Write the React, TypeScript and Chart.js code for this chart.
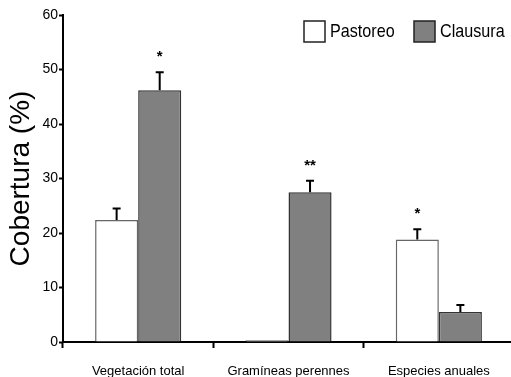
import React, { useEffect, useRef } from "react";
import { Chart, registerables } from "chart.js";

Chart.register(...registerables);

const categories = ["Vegetación total", "Gramíneas perennes", "Especies anuales"];
const pastoreo = [22.4, 0.3, 18.8];
const pastoreoErr = [2.1, 0, 1.9];
const clausura = [46.2, 27.5, 5.5];
const clausuraErr = [3.3, 2.1, 1.3];
const pastoreoSig = ["", "", "*"];
const clausuraSig = ["*", "**", ""];
const yTicks = [0, 10, 20, 30, 40, 50, 60];

const SANS = "'Liberation Sans', Arial, sans-serif";
const errs = [pastoreoErr, clausuraErr];
const sigs = [pastoreoSig, clausuraSig];

const extrasPlugin = {
  id: "extras",
  afterDatasetsDraw(chart: any) {
    const ctx = chart.ctx;
    const y = chart.scales.y;
    chart.data.datasets.forEach((ds: any, di: number) => {
      const meta = chart.getDatasetMeta(di);
      meta.data.forEach((bar: any, i: number) => {
        const v = ds.data[i];
        const e = errs[di][i];
        const top = y.getPixelForValue(v + e);
        ctx.save();
        if (e > 0) {
          ctx.strokeStyle = "#000";
          ctx.lineWidth = 2;
          ctx.beginPath();
          ctx.moveTo(bar.x, y.getPixelForValue(v));
          ctx.lineTo(bar.x, top);
          ctx.moveTo(bar.x - 4, top);
          ctx.lineTo(bar.x + 4, top);
          ctx.stroke();
        }
        const s = sigs[di][i];
        if (s) {
          ctx.fillStyle = "#000";
          ctx.font = "bold 15px " + SANS;
          ctx.textAlign = "center";
          ctx.textBaseline = "middle";
          ctx.fillText(s, bar.x, top - 15);
        }
        ctx.restore();
      });
    });
    // legend
    const items = [
      { label: chart.data.datasets[0].label, fill: "#ffffff", x: 304 },
      { label: chart.data.datasets[1].label, fill: "#808080", x: 414 },
    ];
    items.forEach((it) => {
      ctx.save();
      ctx.fillStyle = it.fill;
      ctx.fillRect(it.x, 21, 21, 21);
      ctx.strokeStyle = "#222";
      ctx.lineWidth = 1.5;
      ctx.strokeRect(it.x, 21, 21, 21);
      ctx.fillStyle = "#000";
      ctx.font = "19px " + SANS;
      ctx.textAlign = "left";
      ctx.textBaseline = "middle";
      ctx.translate(it.x + 26, 32);
      ctx.scale(0.85, 1);
      ctx.fillText(it.label, 0, 0);
      ctx.restore();
    });
  },
};

export default function App() {
  const ref = useRef<HTMLCanvasElement>(null);
  useEffect(() => {
    document.body.style.margin = "0";
    const chart = new Chart(ref.current!, {
      type: "bar",
      data: {
        labels: categories,
        datasets: [
          {
            label: "Pastoreo",
            data: pastoreo,
            backgroundColor: "#ffffff",
            borderColor: "#666666",
            borderWidth: 1.5,
            barPercentage: 1,
            categoryPercentage: 0.573,
          },
          {
            label: "Clausura",
            data: clausura,
            backgroundColor: "#808080",
            borderColor: "#333333",
            borderWidth: 1.5,
            barPercentage: 1,
            categoryPercentage: 0.573,
          },
        ],
      },
      options: {
        animation: false,
        responsive: false,
        devicePixelRatio: 1,
        layout: { padding: { top: 15, right: 0, bottom: 0, left: 0 } },
        plugins: { legend: { display: false }, tooltip: { enabled: false } },
        scales: {
          x: {
            afterFit: (s: any) => {
              s.height = 35;
            },
            grid: {
              display: true,
              drawOnChartArea: false,
              offset: true,
              tickLength: 6,
              tickWidth: 2,
              tickColor: "#000",
            },
            border: { color: "#000", width: 2 },
            ticks: {
              color: "#000",
              padding: 16,
              maxRotation: 0,
              font: { family: SANS, size: 13 },
            },
          },
          y: {
            min: 0,
            max: 60,
            afterBuildTicks: (s: any) => {
              s.ticks = yTicks.map((v) => ({ value: v }));
            },
            afterFit: (s: any) => {
              s.width = 63;
            },
            grid: {
              display: true,
              drawOnChartArea: false,
              tickLength: 4,
              tickWidth: 2,
              tickColor: "#000",
            },
            border: { color: "#000", width: 2 },
            ticks: {
              color: "#000",
              padding: 1,
              font: { family: SANS, size: 14 },
            },
            title: {
              display: true,
              text: "Cobertura (%)",
              color: "#000",
              font: { family: SANS, size: 28 },
              padding: { top: 4, bottom: 0 },
            },
          },
        },
      },
      plugins: [extrasPlugin],
    });
    return () => chart.destroy();
  }, []);
  return (
    <div style={{ position: "fixed", left: 0, top: 0, width: 511, height: 377, overflow: "hidden", background: "#fff" }}>
      <canvas ref={ref} width={514} height={377} style={{ display: "block" }} />
    </div>
  );
}
